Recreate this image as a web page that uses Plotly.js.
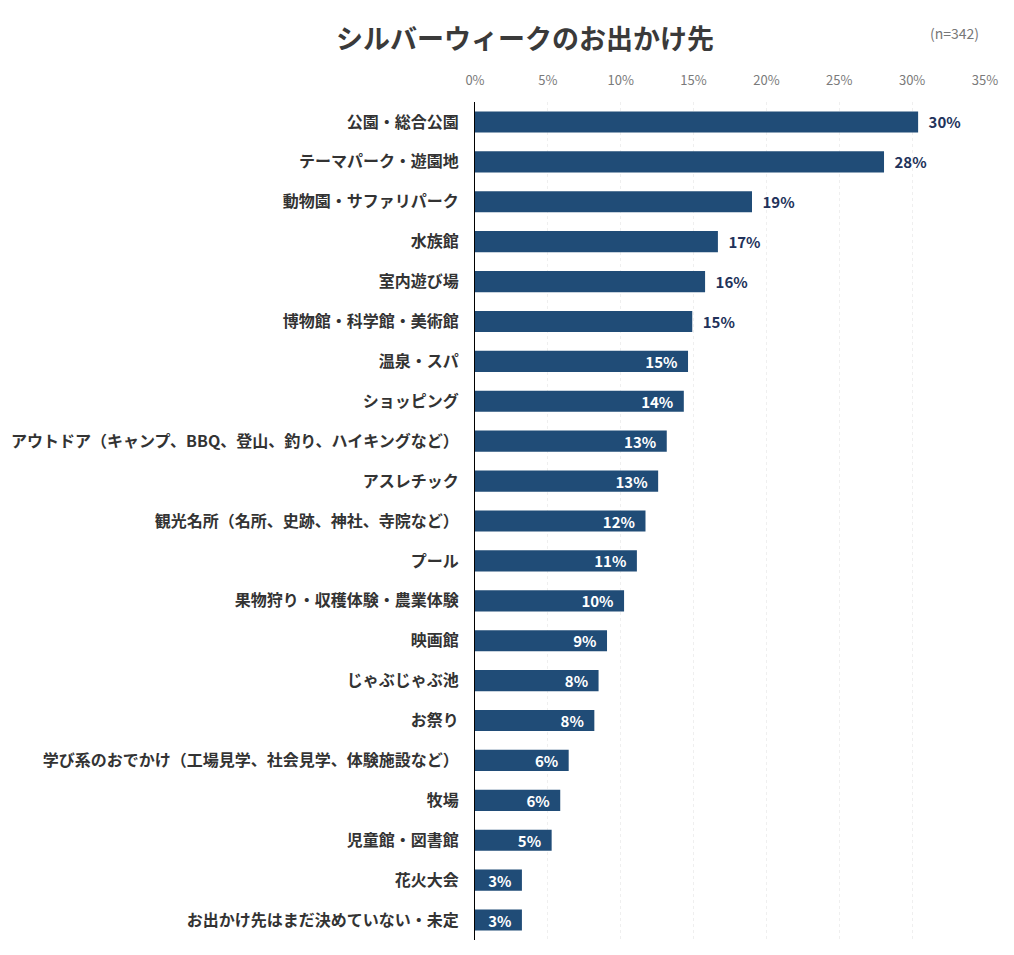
<!DOCTYPE html>
<html>
<head>
<meta charset="utf-8">
<script src="https://cdn.plot.ly/plotly-3.0.1.min.js"></script>
<style>html,body{margin:0;padding:0;background:#fff;}#chart{width:1014px;height:955px;}</style>
</head>
<body>
<div id="chart"></div>
<script>
const categories = [
  "公園・総合公園",
  "テーマパーク・遊園地",
  "動物園・サファリパーク",
  "水族館",
  "室内遊び場",
  "博物館・科学館・美術館",
  "温泉・スパ",
  "ショッピング",
  "アウトドア（キャンプ、BBQ、登山、釣り、ハイキングなど）",
  "アスレチック",
  "観光名所（名所、史跡、神社、寺院など）",
  "プール",
  "果物狩り・収穫体験・農業体験",
  "映画館",
  "じゃぶじゃぶ池",
  "お祭り",
  "学び系のおでかけ（工場見学、社会見学、体験施設など）",
  "牧場",
  "児童館・図書館",
  "花火大会",
  "お出かけ先はまだ決めていない・未定"
];
const percentValues = [30.41, 28.07, 19.01, 16.67, 15.79, 14.91, 14.62, 14.33, 13.16, 12.57, 11.70, 11.11, 10.23, 9.06, 8.48, 8.19, 6.43, 5.85, 5.26, 3.22, 3.22];
const tickValues = [0, 5, 10, 15, 20, 25, 30, 35];
const tickLabels = ["0%", "5%", "10%", "15%", "20%", "25%", "30%", "35%"];
const outsideCount = 6;

const font = '"Noto Sans CJK JP", "Noto Sans", sans-serif';
const positions = percentValues.map((v, i) => i < outsideCount ? 'outside' : 'inside');
const labels = percentValues.map((v, i) => i < outsideCount ? '\u2002' + Math.round(v) + '%' : Math.round(v) + '%\u2002');

const trace = {
  type: 'bar',
  orientation: 'h',
  y: categories,
  x: percentValues,
  marker: {color: '#204c77'},
  text: labels,
  textposition: positions,
  insidetextanchor: 'end',
  constraintext: 'none',
  outsidetextfont: {family: font, size: 15, color: '#22325a', weight: 700},
  insidetextfont: {family: font, size: 15, color: '#ffffff', weight: 700},
  cliponaxis: false,
  hoverinfo: 'none'
};

const layout = {
  width: 1014,
  height: 955,
  margin: {l: 475, r: 29, t: 102, b: 15},
  paper_bgcolor: '#ffffff',
  plot_bgcolor: '#ffffff',
  bargap: 0.47,
  showlegend: false,
  font: {family: font},
  title: {
    text: '<b>シルバーウィークのお出かけ先</b>',
    font: {family: font, size: 27, color: '#3a3a3a'},
    xref: 'container', x: 525 / 1014, xanchor: 'center',
    yref: 'container', y: 1 - 40 / 955, yanchor: 'middle'
  },
  xaxis: {
    side: 'top',
    range: [0, 35],
    tickvals: tickValues,
    ticktext: tickLabels,
    tickfont: {family: font, size: 13, color: '#7a7a7a'},
    showgrid: true,
    gridcolor: '#efefef',
    griddash: 'dot',
    gridwidth: 1,
    zeroline: false,
    showline: false,
    ticks: '',
    ticklabelstandoff: 13,
    fixedrange: true
  },
  yaxis: {
    autorange: 'reversed',
    showline: true,
    linecolor: '#000000',
    linewidth: 1,
    ticks: '',
    ticklabelstandoff: 12,
    tickfont: {family: font, size: 16, color: '#333333', weight: 700},
    showgrid: false,
    zeroline: false,
    fixedrange: true
  },
  annotations: [{
    text: '(n=342)',
    xref: 'paper', yref: 'paper',
    x: (954 - 475) / 510, y: 1 + (102 - 33) / 838,
    xanchor: 'center', yanchor: 'middle',
    showarrow: false,
    font: {family: font, size: 14, color: '#777777'}
  }]
};

Plotly.newPlot('chart', [trace], layout, {displayModeBar: false, staticPlot: true});
</script>
</body>
</html>
